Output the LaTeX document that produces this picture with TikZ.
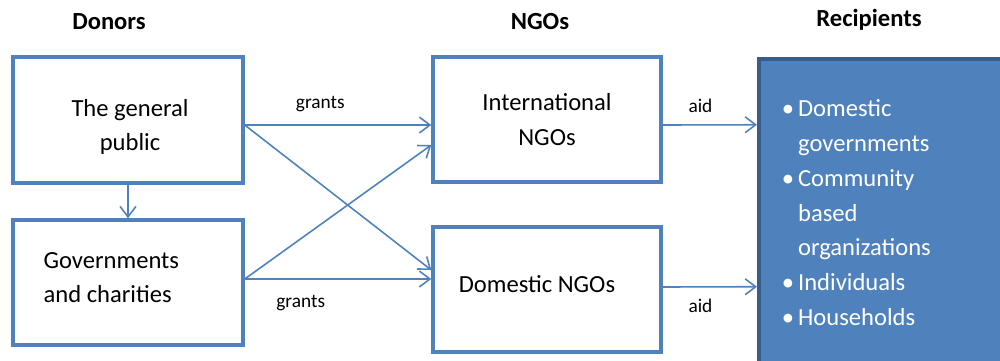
\documentclass[tikz,border=0pt]{standalone}
\usepackage{fontspec}
\setmainfont{Carlito}
\usetikzlibrary{arrows.meta}
\definecolor{boxblue}{HTML}{4F81BD}
\definecolor{boxdark}{HTML}{385D8A}

\begin{document}
\begin{tikzpicture}[
		x=0.02cm, y=-0.02cm,
		font=\fontsize{14}{19.8}\selectfont,
		% Styles for the boxes
		actor/.style={draw=boxblue, line width=2pt, minimum width=4.6cm, minimum height=2.5cm, align=center},
		boxtxt/.style={font=\fontsize{14}{19.8}\selectfont, inner sep=0pt},
		recbox/.style={draw=boxdark, line width=2pt, fill=boxblue, text=white,
			minimum width=4.92cm, minimum height=6.16cm, inner xsep=0.46cm,
			text width=4cm, align=flush left, anchor=north west},
		% Connectors and their labels
		flow/.style={draw=boxblue, line width=0.9pt, -{Straight Barb[length=6pt, width=9pt]}},
		flowlabel/.style={font=\fontsize{11}{13}\selectfont, inner sep=1pt},
		colTitle/.style={font=\fontsize{14}{17}\selectfont\bfseries}
		]
		\useasboundingbox (0,0) rectangle (1000,360);
		
		% Column titles
		\node[colTitle] (tDonors) at (109,22) {Donors};
		\node[colTitle] (tNGOs) at (540,22) {NGOs};
		\node[colTitle] (tRec) at (869,20) {Recipients};
		
		% Donors
		\node[actor, minimum height=2.52cm,
			label={[boxtxt, align=center, xshift=0.04cm, yshift=-0.14cm]center:The general\\public}] (pub) at (128,120) {};
		\node[actor,
			label={[boxtxt, align=flush left, anchor=west, yshift=0.1cm]west:\hspace{0.64cm}Governments\\\hspace{0.64cm}and charities}] (gov) at (128,282.5) {};
		
		% NGOs
		\node[actor, minimum width=4.56cm] (intl) at (547,119.5) {International\\NGOs};
		\node[actor, minimum width=4.56cm,
			label={[boxtxt, xshift=-0.2cm, yshift=0.1cm]center:Domestic NGOs}] (dom) at (547,289.5) {};
		
		% Recipients
		\node[recbox] (rec) at (757,57) {%
			\textbullet\,Domestic\\
			\hphantom{\textbullet\,}governments\\
			\textbullet\,Community\\
			\hphantom{\textbullet\,}based\\
			\hphantom{\textbullet\,}organizations\\
			\textbullet\,Individuals\\
			\textbullet\,Households};
		
		% Flows
		\draw[flow] (pub) -- (gov);
		\draw[flow] ([yshift=-0.1cm]pub.east) -- node[flowlabel, pos=.405, yshift=0.42cm] (lGrantsA) {grants} ([yshift=-0.11cm]intl.west);
		\draw[flow] ([yshift=-0.1cm]pub.east) -- ([yshift=0.39cm]dom.west);
		\draw[flow] ([yshift=0.07cm]gov.east) -- ([yshift=-0.51cm]intl.west);
		\draw[flow] ([yshift=0.07cm]gov.east) -- node[flowlabel, pos=.3, yshift=-0.48cm] (lGrantsB) {grants} ([yshift=0.21cm]dom.west);
		\draw[flow] ([yshift=-0.11cm]intl.east) -- node[flowlabel, pos=.4, yshift=0.38cm] (lAidA) {aid} ([yshift=1.76cm]rec.west);
		\draw[flow] ([yshift=0.05cm]dom.east) -- node[flowlabel, pos=.4, yshift=-0.38cm] (lAidB) {aid} ([yshift=-1.48cm]rec.west);
	\end{tikzpicture}
\end{document}
